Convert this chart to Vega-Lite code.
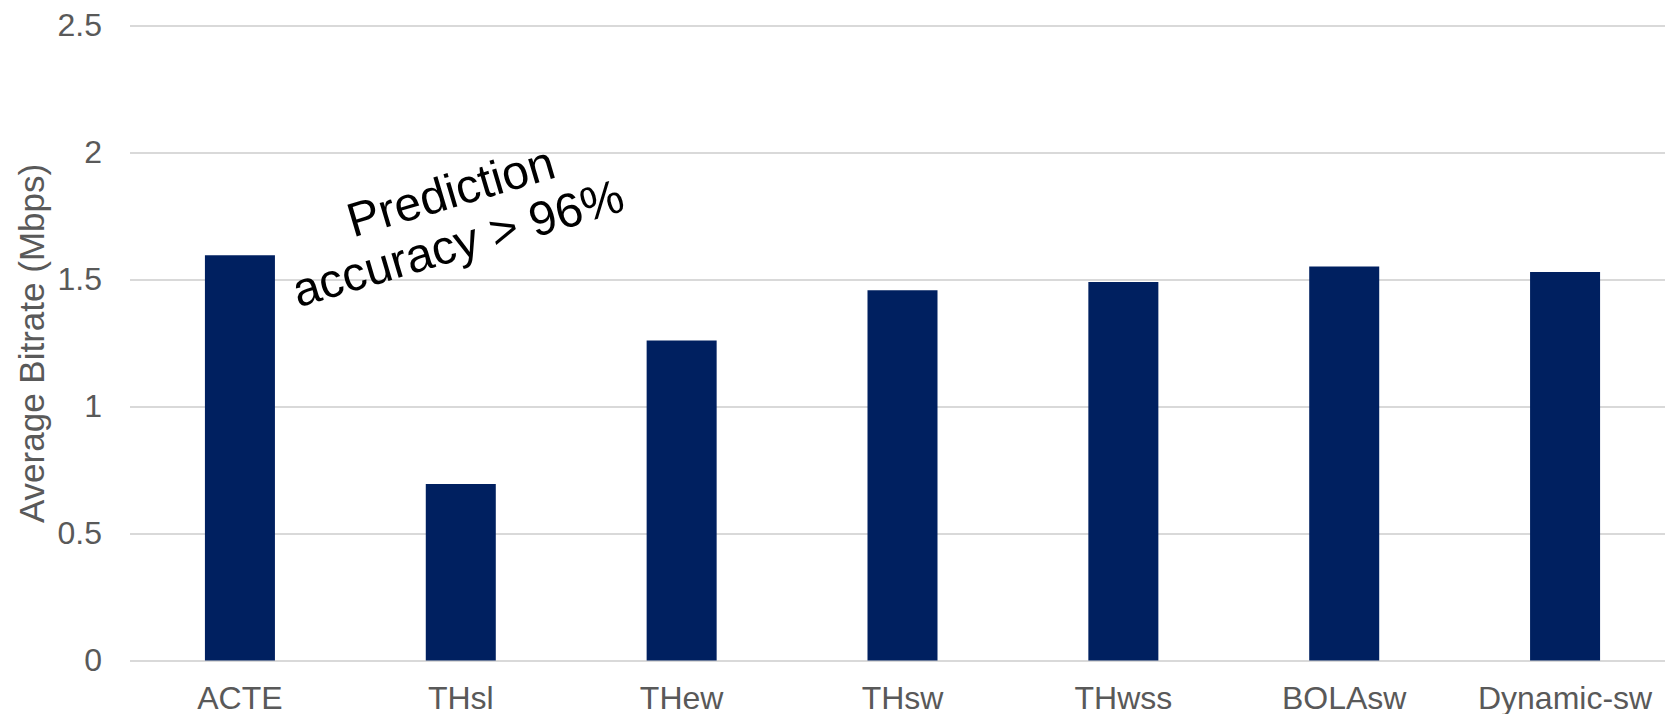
{
  "$schema": "https://vega.github.io/schema/vega-lite/v6.json",
  "width": 1546,
  "height": 635,
  "autosize": {"type": "none"},
  "padding": {"left": 129.5, "top": 25.5, "right": 0, "bottom": 53.5},
  "background": "white",
  "config": {
    "view": {"stroke": null},
    "font": "Liberation Sans",
    "axis": {
      "labelFont": "Liberation Sans",
      "titleFont": "Liberation Sans",
      "labelColor": "#595959",
      "titleColor": "#595959",
      "labelFontWeight": "normal",
      "titleFontWeight": "normal"
    },
    "text": {
      "font": "Liberation Sans",
      "fontSize": 48,
      "angle": -16.5,
      "align": "center",
      "baseline": "alphabetic",
      "color": "#000000"
    }
  },
  "layer": [
    {
      "data": {
        "values": [
          {"method": "ACTE", "bitrate": 1.595},
          {"method": "THsl", "bitrate": 0.695},
          {"method": "THew", "bitrate": 1.26},
          {"method": "THsw", "bitrate": 1.458},
          {"method": "THwss", "bitrate": 1.49},
          {"method": "BOLAsw", "bitrate": 1.551},
          {"method": "Dynamic-sw", "bitrate": 1.53}
        ]
      },
      "mark": {"type": "bar", "color": "#002060"},
      "encoding": {
        "x": {
          "field": "method",
          "type": "nominal",
          "sort": null,
          "scale": {"paddingInner": 0.683, "paddingOuter": 0.3415},
          "axis": {
            "title": null,
            "labelAngle": 0,
            "labelFontSize": 32,
            "labelPadding": 23,
            "ticks": false,
            "domain": false,
            "grid": false
          }
        },
        "y": {
          "field": "bitrate",
          "type": "quantitative",
          "scale": {"domain": [0, 2.5], "nice": false},
          "axis": {
            "title": "Average Bitrate (Mbps)",
            "values": [0, 0.5, 1, 1.5, 2, 2.5],
            "format": "~g",
            "labelFontSize": 32,
            "labelPadding": 28,
            "ticks": false,
            "domain": false,
            "grid": true,
            "gridColor": "#d9d9d9",
            "gridWidth": 2,
            "titleFontSize": 35,
            "titleX": -86,
            "titleY": 317.5,
            "titleAngle": 270,
            "titleAlign": "center",
            "titleBaseline": "alphabetic"
          }
        }
      }
    },
    {
      "data": {"values": [{"note": "Prediction"}]},
      "mark": {"type": "text"},
      "encoding": {
        "x": {"datum": "THsl", "bandPosition": 0.423},
        "y": {"datum": 1.785},
        "text": {"field": "note"}
      }
    },
    {
      "data": {"values": [{"note": "accuracy > 96%"}]},
      "mark": {"type": "text"},
      "encoding": {
        "x": {"datum": "THsl", "bandPosition": 0.525},
        "y": {"datum": 1.581},
        "text": {"field": "note"}
      }
    }
  ]
}
